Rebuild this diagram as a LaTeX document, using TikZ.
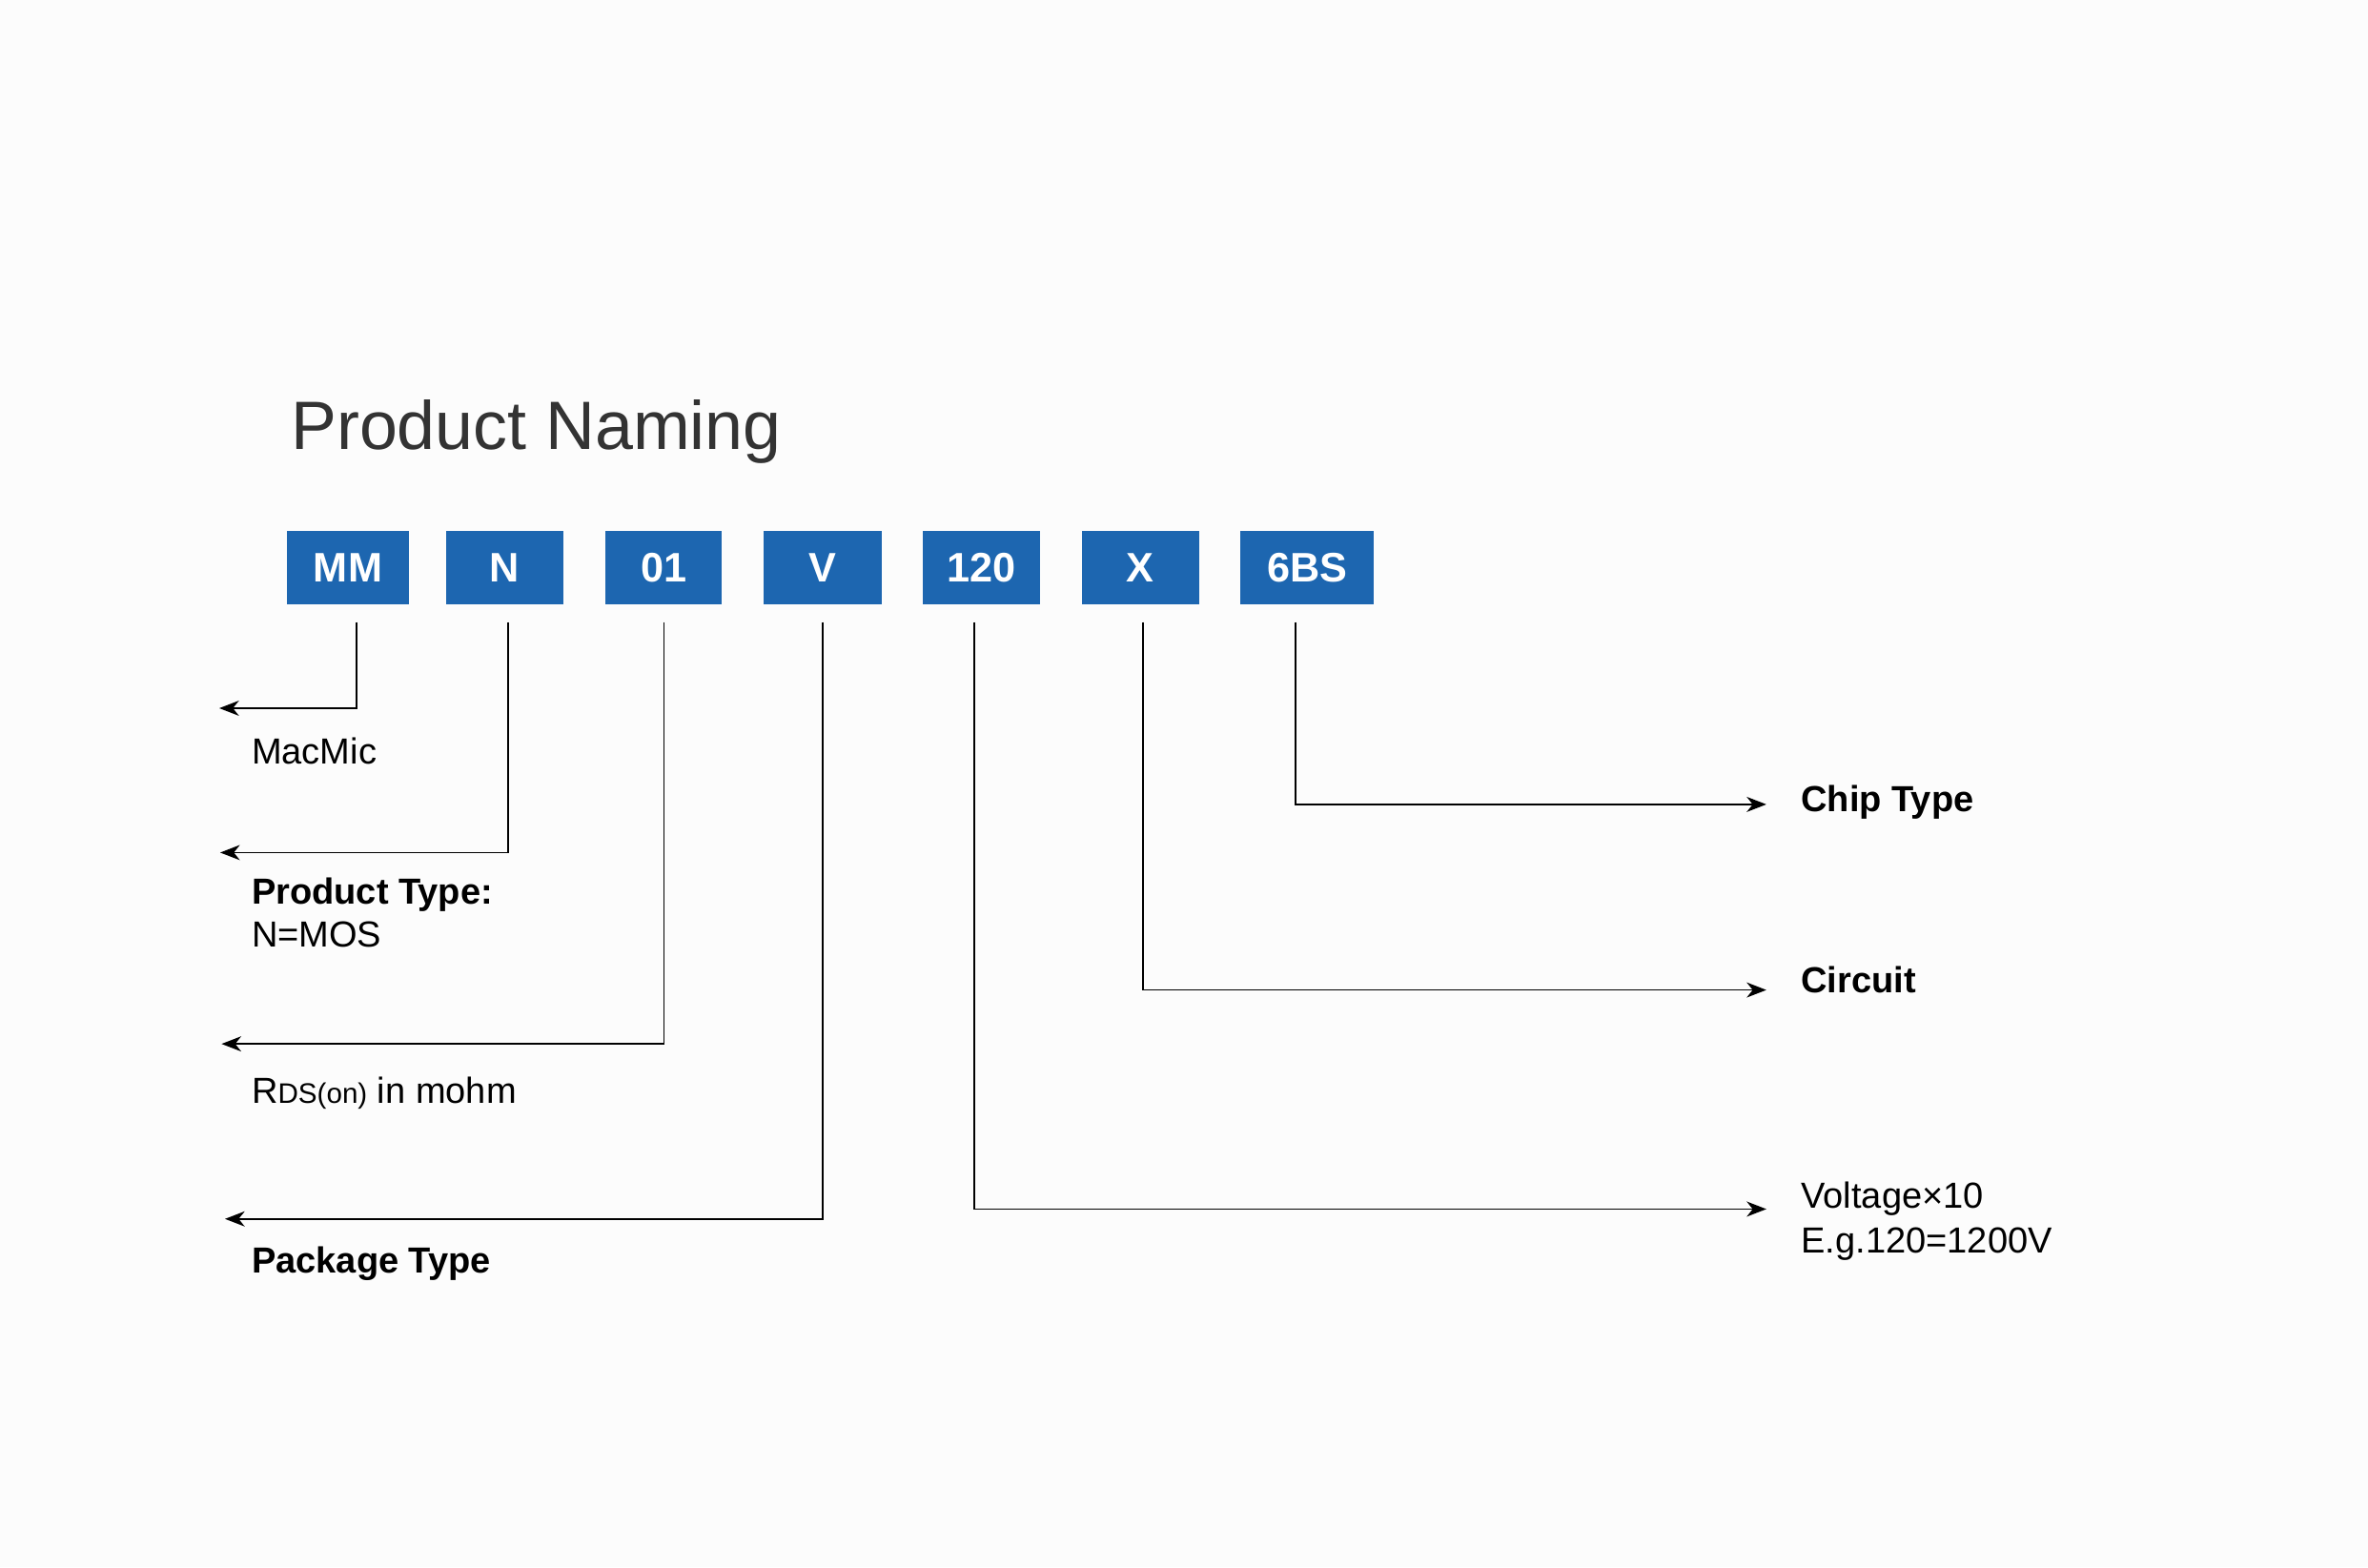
\documentclass[tikz,border=0pt]{standalone}
\usepackage{fontspec}
\setmainfont{Liberation Sans}
\usetikzlibrary{arrows.meta}
\definecolor{bgc}{RGB}{252,252,252}
\definecolor{boxblue}{RGB}{29,102,176}
\definecolor{titlegray}{RGB}{51,51,51}
\begin{document}
\begin{tikzpicture}[x=1pt,y=-1pt,
  codebox/.style={fill=boxblue, text=white, font=\bfseries\fontsize{27.3}{32}\selectfont, minimum height=48pt, inner sep=0pt},
  lbl/.style={anchor=base west, inner sep=0pt, font=\fontsize{24}{28}\selectfont, text=black},
  lblb/.style={lbl, font=\bfseries\fontsize{24}{28}\selectfont},
  conn/.style={draw=black, line width=1.1pt, -{Stealth[length=13pt,width=10pt,inset=4pt]}}]
\path[fill=bgc] (0,0) rectangle (1568,1037.8);
\useasboundingbox (0,0) rectangle (1568,1037.8);

% title
\node[anchor=base west, inner sep=0pt, text=titlegray, font=\fontsize{45.3}{54}\selectfont] (title) at (192.5,297.5) {Product Naming};

% code boxes
\node[codebox, minimum width=80.8pt] (mm)  at (230.4,375.9) {MM};
\node[codebox, minimum width=77.6pt] (n)   at (334.2,375.9) {N};
\node[codebox, minimum width=77.3pt] (o1)  at (439.4,375.9) {01};
\node[codebox, minimum width=78pt]   (v)   at (544.7,375.9) {V};
\node[codebox, minimum width=77.8pt] (vol) at (649.9,375.9) {120};
\node[codebox, minimum width=77.6pt] (x)   at (755.2,375.9) {X};
\node[codebox, minimum width=88.2pt] (bs)  at (865.6,375.9) {6BS};

% connector start / end points
\coordinate (mmS)  at (236,412);   \coordinate (mmE)  at (145.2,469);
\coordinate (nS)   at (336.4,412); \coordinate (nE)   at (145.8,564.6);
\coordinate (o1S)  at (439.7,412); \coordinate (o1E)  at (146.7,691.3);
\coordinate (vS)   at (544.8,412); \coordinate (vE)   at (149,807.2);
\coordinate (volS) at (645.2,412); \coordinate (volE) at (1169.6,800.7);
\coordinate (xS)   at (756.8,412); \coordinate (xE)   at (1169.6,655.6);
\coordinate (bsS)  at (857.9,412); \coordinate (bsE)  at (1169.6,532.7);

\draw[conn] (mmS) |- (mmE);
\draw[conn] (nS) |- (nE);
\draw[conn] (o1S) |- (o1E);
\draw[conn] (vS) |- (vE);
\draw[conn] (volS) |- (volE);
\draw[conn] (xS) |- (xE);
\draw[conn] (bsS) |- (bsE);

% left labels
\node[lbl]  (lmac)  at (166.5,506.1) {MacMic};
\node[lblb] (lpt)   at (166.5,598.7) {Product Type:};
\node[lbl]  (lptb)  at (166.5,627)   {N=MOS};
\node[lbl]  (lrds)  at (166.5,730.6) {R{\fontsize{18.7}{22}\selectfont DS(on)} in mohm};
\node[lblb] (lpack) at (166.5,842.8) {Package Type};

% right labels
\node[lblb] (lchip) at (1192.5,537.8) {Chip Type};
\node[lblb] (lcirc) at (1192.5,657.4) {Circuit};
\node[lbl]  (lvolt) at (1192.5,800.2) {Voltage×10};
\node[lbl]  (leg)   at (1192.5,829.5) {E.g.120=1200V};
\end{tikzpicture}
\end{document}
